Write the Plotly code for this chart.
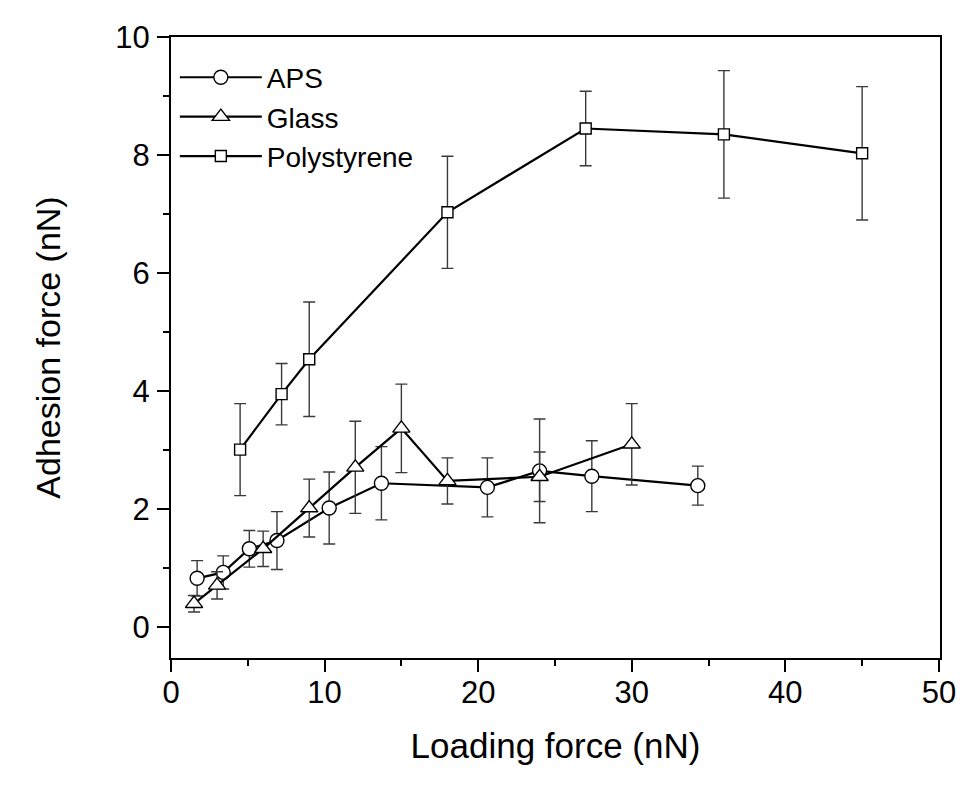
import plotly.graph_objects as go

# APS (circles)
aps_x = [1.7, 3.4, 5.1, 6.9, 10.3, 13.7, 20.6, 24.0, 27.4, 34.3]
aps_y = [0.83, 0.93, 1.33, 1.47, 2.02, 2.44, 2.37, 2.65, 2.56, 2.40]
aps_err = [0.30, 0.28, 0.31, 0.49, 0.61, 0.62, 0.50, 0.88, 0.60, 0.33]

# Glass (triangles)
glass_x = [1.5, 3.0, 6.0, 9.0, 12.0, 15.0, 18.0, 24.0, 30.0]
glass_y = [0.40, 0.71, 1.33, 2.02, 2.71, 3.37, 2.48, 2.55, 3.10]
glass_err = [0.14, 0.23, 0.30, 0.49, 0.78, 0.75, 0.39, 0.42, 0.69]

# Polystyrene (squares)
ps_x = [4.5, 7.2, 9.0, 18.0, 27.0, 36.0, 45.0]
ps_y = [3.01, 3.95, 4.54, 7.03, 8.45, 8.35, 8.03]
ps_err = [0.78, 0.52, 0.97, 0.95, 0.63, 1.08, 1.13]

x_title = "Loading force (nN)"
y_title = "Adhesion force (nN)"
FONT = "Liberation Sans, Arial, sans-serif"

def series(name, x, y, err, symbol, size):
    return go.Scatter(
        x=x, y=y, name=name, mode="lines+markers",
        line=dict(color="black", width=2.2),
        marker=dict(symbol=symbol, size=size, color="white",
                    line=dict(color="black", width=1.4)),
        error_y=dict(type="data", array=err, visible=True,
                     color="#3a3a3a", thickness=1.4, width=6),
    )

fig = go.Figure()
fig.add_trace(series("APS", aps_x, aps_y, aps_err, "circle", 14))
fig.add_trace(series("Glass", glass_x, glass_y, glass_err, "triangle-up", 15))
fig.add_trace(series("Polystyrene", ps_x, ps_y, ps_err, "square", 11))

axis_common = dict(
    showline=True, linecolor="black", linewidth=2, mirror=True,
    ticks="outside", ticklen=12, tickwidth=2, tickcolor="black",
    showgrid=False, zeroline=False,
    tickfont=dict(family=FONT, size=31, color="black"),
)

fig.update_xaxes(
    range=[0, 50.07], tick0=0, dtick=10,
    minor=dict(dtick=5, ticks="outside", ticklen=6, tickwidth=2, tickcolor="black", showgrid=False),
    title=dict(text=x_title, font=dict(family=FONT, size=35, color="black"), standoff=24),
    ticklabelstandoff=-6,
    **axis_common,
)
fig.update_yaxes(
    range=[-0.52, 10], tick0=0, dtick=2,
    minor=dict(dtick=1, ticks="outside", ticklen=6, tickwidth=2, tickcolor="black", showgrid=False),
    title=dict(text=y_title, font=dict(family=FONT, size=34, color="black"), standoff=44),
    ticklabelstandoff=1,
    **axis_common,
)

fig.update_layout(
    width=961, height=780,
    margin=dict(l=163, r=29, t=24, b=130),
    paper_bgcolor="white", plot_bgcolor="white",
    font=dict(family=FONT, color="black"),
    legend=dict(x=0.005, y=0.975, xanchor="left", yanchor="top",
                bgcolor="rgba(0,0,0,0)", font=dict(family=FONT, size=28, color="black"),
                tracegroupgap=0, itemwidth=82),
    showlegend=True,
)

fig.write_html("out.html")
